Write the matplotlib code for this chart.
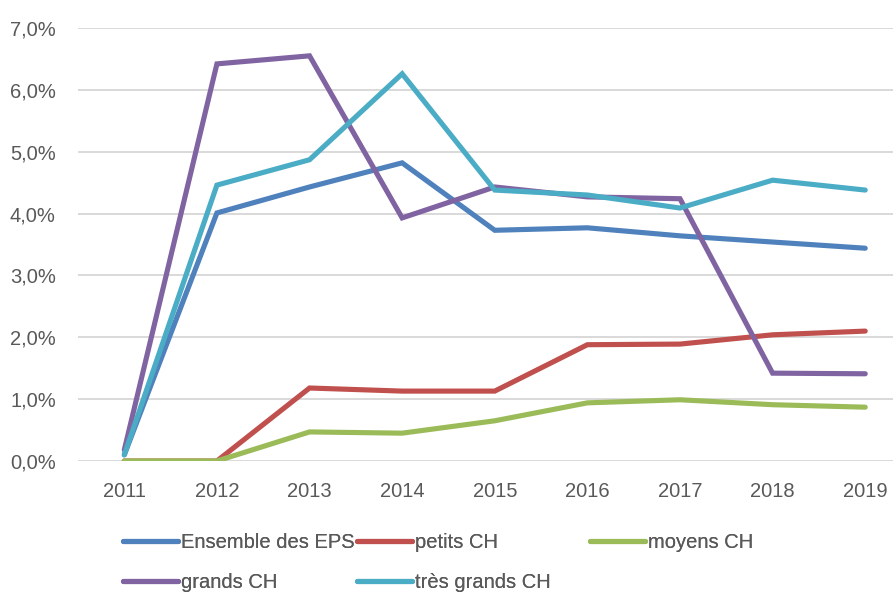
import matplotlib
matplotlib.use("Agg")
import matplotlib.pyplot as plt
from matplotlib.ticker import FuncFormatter

years = [2011, 2012, 2013, 2014, 2015, 2016, 2017, 2018, 2019]
ensemble = [0.10, 4.01, 4.43, 4.82, 3.73, 3.77, 3.64, 3.54, 3.44]
petits = [0.0, 0.0, 1.18, 1.13, 1.13, 1.88, 1.89, 2.04, 2.10]
moyens = [0.0, 0.0, 0.47, 0.45, 0.65, 0.94, 0.99, 0.91, 0.87]
grands = [0.18, 6.42, 6.55, 3.93, 4.43, 4.27, 4.24, 1.42, 1.41]
tres_grands = [0.10, 4.46, 4.87, 6.26, 4.38, 4.30, 4.09, 4.54, 4.38]

labels = ["Ensemble des EPS", "petits CH", "moyens CH", "grands CH", "très grands CH"]
colors = ["#4F81BD", "#C0504D", "#9BBB59", "#8064A2", "#4BACC6"]

plt.rcParams["font.family"] = ["Liberation Sans", "DejaVu Sans"]
TXT = "#595959"

fig = plt.figure(figsize=(8.96, 5.97), dpi=100)
ax = fig.add_axes([78 / 896, 1 - 461 / 597, (893 - 78) / 896, (461 - 28) / 597])

series = [ensemble, petits, moyens, grands, tres_grands]
lines = []
for vals, col, lab in zip(series, colors, labels):
    (ln,) = ax.plot(years, vals, color=col, linewidth=3.7, label=lab,
                    solid_capstyle="round", solid_joinstyle="miter")
    lines.append(ln)

ax.set_xlim(2010.5, 2019.3)
ax.set_ylim(0, 7)
ax.set_yticks(range(0, 8))
ax.yaxis.set_major_formatter(FuncFormatter(lambda v, p: f"{v:.1f}%".replace(".", ",")))
ax.set_xticks(years)
ax.grid(axis="y", color="#D9D9D9", linewidth=1.4)
ax.set_axisbelow(True)
for s in ax.spines.values():
    s.set_visible(False)
ax.tick_params(axis="both", length=0, labelsize=14.5, colors=TXT)
ax.tick_params(axis="y", pad=16)
ax.tick_params(axis="x", pad=15)

# legend entries placed individually (Excel-style layout)
pos = [(123, 543), (357, 543), (590, 543), (123, 583), (357, 583)]
for ln, (px, py) in zip(lines, pos):
    lg = fig.legend(handles=[ln], loc="center left",
                    bbox_to_anchor=(px / 896, 1 - py / 597),
                    frameon=False, borderpad=0, borderaxespad=0,
                    handlelength=2.75, handletextpad=0.15,
                    fontsize=14.5, labelcolor=TXT)
    fig.add_artist(lg)

fig.savefig("out.png", dpi=100)
